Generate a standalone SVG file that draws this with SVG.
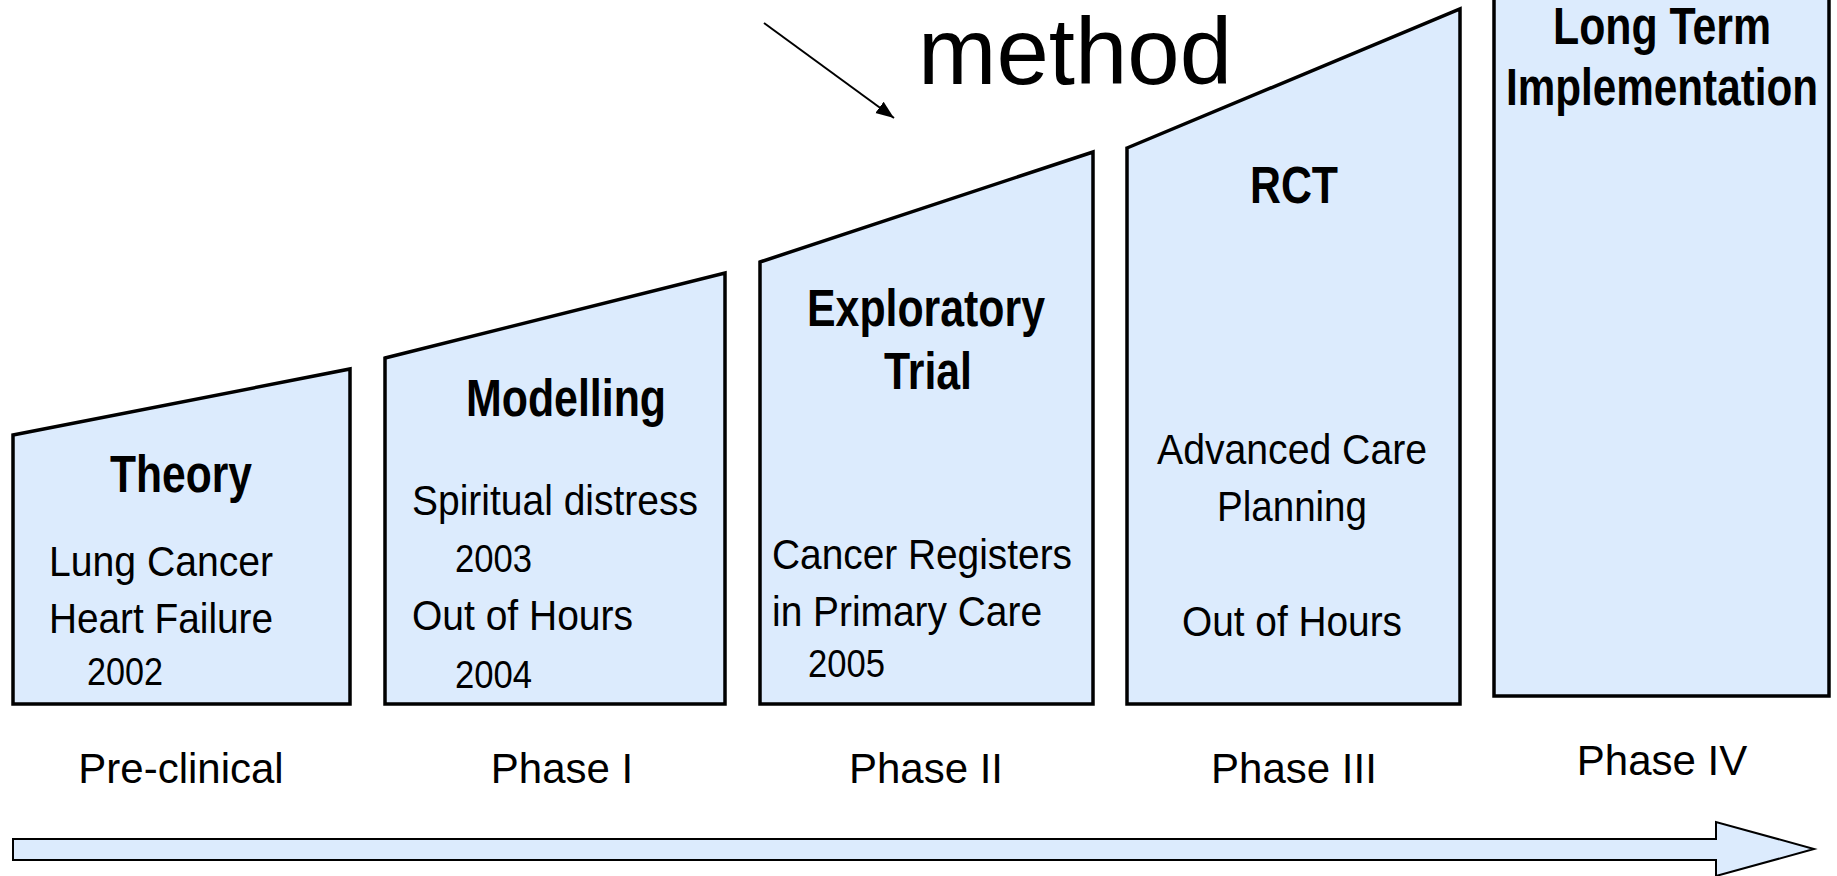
<svg xmlns="http://www.w3.org/2000/svg" width="1837" height="876" viewBox="0 0 1837 876">
<style>
.box{fill:#dcebfd;stroke:#000;stroke-width:3.5;stroke-linejoin:miter}
.t{font-family:"Liberation Sans",Arial,sans-serif;fill:#000}
.b{font-weight:bold;font-size:51px}
.r{font-size:43px}
.y{font-size:39px}
.p{font-size:42px;text-anchor:middle}
</style>
<defs>
<marker id="ah" markerUnits="userSpaceOnUse" markerWidth="20" markerHeight="16" refX="18" refY="7" orient="auto">
<path d="M0,0 L18,7 L0,14 Z" fill="#000"/>
</marker>
</defs>
<rect width="1837" height="876" fill="#fff"/>
<g id="connectors">
<line x1="764" y1="23" x2="894" y2="118" stroke="#000" stroke-width="2" marker-end="url(#ah)"/>
<polygon points="13,839 1716,839 1716,822 1814,849 1716,876 1716,860 13,860" fill="#dcebfd" stroke="#000" stroke-width="2"/>
</g>
<g id="title-method">
<text class="t" x="918" y="84" font-size="95" textLength="314" lengthAdjust="spacingAndGlyphs">method</text>
</g>
<g id="node-theory">
<polygon class="box" points="13,435 350,369 350,704 13,704"/>
<text class="t b" x="110" y="492" textLength="142" lengthAdjust="spacingAndGlyphs">Theory</text>
<text class="t r" x="49" y="576" textLength="224" lengthAdjust="spacingAndGlyphs">Lung Cancer</text>
<text class="t r" x="49" y="633" textLength="224" lengthAdjust="spacingAndGlyphs">Heart Failure</text>
<text class="t y" x="87" y="685" textLength="76" lengthAdjust="spacingAndGlyphs">2002</text>
</g>
<g id="node-modelling">
<polygon class="box" points="385,358 725,273 725,704 385,704"/>
<text class="t b" x="466" y="416" textLength="200" lengthAdjust="spacingAndGlyphs">Modelling</text>
<text class="t r" x="412" y="515" textLength="286" lengthAdjust="spacingAndGlyphs">Spiritual distress</text>
<text class="t y" x="455" y="572" textLength="77" lengthAdjust="spacingAndGlyphs">2003</text>
<text class="t r" x="412" y="630" textLength="221" lengthAdjust="spacingAndGlyphs">Out of Hours</text>
<text class="t y" x="455" y="688" textLength="77" lengthAdjust="spacingAndGlyphs">2004</text>
</g>
<g id="node-exploratory">
<polygon class="box" points="760,262 1093,152 1093,704 760,704"/>
<text class="t b" x="807" y="326" textLength="238" lengthAdjust="spacingAndGlyphs">Exploratory</text>
<text class="t b" x="884" y="389" textLength="88" lengthAdjust="spacingAndGlyphs">Trial</text>
<text class="t r" x="772" y="569" textLength="300" lengthAdjust="spacingAndGlyphs">Cancer Registers</text>
<text class="t r" x="772" y="626" textLength="270" lengthAdjust="spacingAndGlyphs">in Primary Care</text>
<text class="t y" x="808" y="677" textLength="77" lengthAdjust="spacingAndGlyphs">2005</text>
</g>
<g id="node-rct">
<polygon class="box" points="1127,148 1460,9 1460,704 1127,704"/>
<text class="t b" x="1250" y="203" textLength="88" lengthAdjust="spacingAndGlyphs">RCT</text>
<text class="t r" x="1157" y="464" textLength="270" lengthAdjust="spacingAndGlyphs">Advanced Care</text>
<text class="t r" x="1217" y="521" textLength="150" lengthAdjust="spacingAndGlyphs">Planning</text>
<text class="t r" x="1182" y="636" textLength="220" lengthAdjust="spacingAndGlyphs">Out of Hours</text>
</g>
<g id="node-longterm">
<rect class="box" x="1494" y="-10" width="335" height="706"/>
<text class="t b" x="1553" y="44" textLength="218" lengthAdjust="spacingAndGlyphs">Long Term</text>
<text class="t b" x="1506" y="105" textLength="312" lengthAdjust="spacingAndGlyphs">Implementation</text>
</g>
<g id="phase-labels">
<text class="t p" x="181" y="783">Pre-clinical</text>
<text class="t p" x="562" y="783">Phase I</text>
<text class="t p" x="926" y="783">Phase II</text>
<text class="t p" x="1294" y="783">Phase III</text>
<text class="t p" x="1662" y="775">Phase IV</text>
</g>
</svg>
